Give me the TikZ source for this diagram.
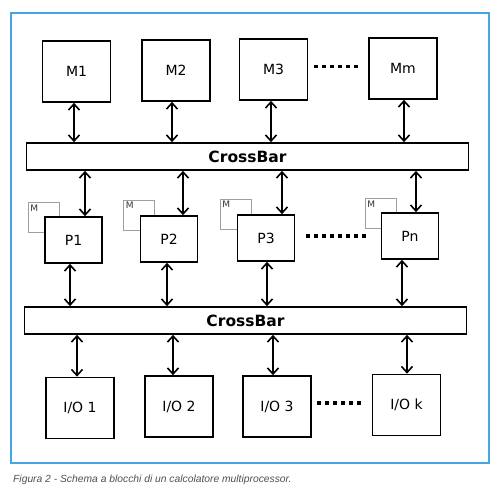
\documentclass[tikz,border=0pt]{standalone}
\usepackage{fontspec}
\setmainfont{DejaVu Sans}
\newfontfamily\capfont{Liberation Sans}
\usetikzlibrary{arrows.meta}
\definecolor{frameblue}{RGB}{70,165,228}
\definecolor{capgray}{RGB}{80,80,80}
\tikzset{
  blk/.style={draw, line width=1.7pt, fill=white, minimum width=68pt, minimum height=61pt, inner sep=0pt, font=\fontsize{14}{14}\selectfont},
  pblk/.style={blk, minimum width=57pt, minimum height=46pt},
  bar/.style={draw, line width=1.7pt, fill=white, minimum width=442pt, minimum height=27pt, inner sep=0pt, font=\fontsize{15.5}{15.5}\selectfont\bfseries},
  mini/.style={draw=gray!75, line width=0.7pt, minimum width=31pt, minimum height=30pt, inner sep=0pt},
  minilbl/.style={font=\fontsize{9}{9}\selectfont, text=black!80, anchor=north west, inner sep=2.5pt},
  arr/.style={line width=1.6pt, {Straight Barb[length=6pt,width=11pt]}-{Straight Barb[length=6pt,width=11pt]}},
  dots/.style={line width=3.2pt, dash pattern=on 4pt off 4pt}
}
\begin{document}
\begin{tikzpicture}[x=1pt,y=-1pt]
\useasboundingbox (0,0) rectangle (500,489);
\fill[white] (0,0) rectangle (500,489);
\draw[frameblue, line width=1.3pt] (11,13) rectangle (489,463);

% memories
\node[blk] (M1) at (76.5,71.5) {M1};
\node[blk] (M2) at (176,70.5) {M2};
\node[blk] (M3) at (273.5,69.5) {M3};
\node[blk] (Mm) at (403,68.5) {Mm};

% crossbar 1
\node[bar] (CB1) at (247.5,156.5) {CrossBar};

% local memories
\node[mini] (LM1) at (43.5,217.5) {};
\node[mini] (LM2) at (139,215) {};
\node[mini] (LM3) at (235.5,214) {};
\node[mini] (LMn) at (380.5,213.5) {};
\node[minilbl] (LM1l) at (LM1.north west) {M};
\node[minilbl] (LM2l) at (LM2.north west) {M};
\node[minilbl] (LM3l) at (LM3.north west) {M};
\node[minilbl] (LMnl) at (LMn.north west) {M};

% processors
\node[pblk] (P1) at (73.5,240) {P1};
\node[pblk] (P2) at (169,239) {P2};
\node[pblk] (P3) at (266,238) {P3};
\node[pblk] (Pn) at (410,236) {Pn};

% crossbar 2
\node[bar] (CB2) at (245.5,320.5) {CrossBar};

% I/O
\node[blk] (IO1) at (80,408) {I/O 1};
\node[blk] (IO2) at (179,406.5) {I/O 2};
\node[blk] (IO3) at (277,406.5) {I/O 3};
\node[blk] (IOk) at (406.5,405) {I/O k};

% arrows memory - crossbar
\coordinate (m1b) at ([xshift=-2.5pt]M1.south);
\coordinate (m2b) at ([xshift=-4pt]M2.south);
\coordinate (m3b) at ([xshift=-2.5pt]M3.south);
\coordinate (mmb) at ([xshift=1pt]Mm.south);
\draw[arr] (m1b) -- (CB1.north -| m1b);
\draw[arr] (m2b) -- (CB1.north -| m2b);
\draw[arr] (m3b) -- (CB1.north -| m3b);
\draw[arr] (mmb) -- (CB1.north -| mmb);

% arrows crossbar - processors
\coordinate (p1t) at ([xshift=11.5pt]P1.north);
\coordinate (p2t) at ([xshift=14pt]P2.north);
\coordinate (p3t) at ([xshift=16pt]P3.north);
\coordinate (pnt) at ([xshift=6pt]Pn.north);
\draw[arr] (CB1.south -| p1t) -- (p1t);
\draw[arr] (CB1.south -| p2t) -- (p2t);
\draw[arr] (CB1.south -| p3t) -- (p3t);
\draw[arr] (CB1.south -| pnt) -- (pnt);

% arrows processors - crossbar 2
\coordinate (p1b) at ([xshift=-3.5pt]P1.south);
\coordinate (p2b) at ([xshift=-2pt]P2.south);
\coordinate (p3b) at ([xshift=1pt]P3.south);
\coordinate (pnb) at ([xshift=-8pt]Pn.south);
\draw[arr] (p1b) -- (CB2.north -| p1b);
\draw[arr] (p2b) -- (CB2.north -| p2b);
\draw[arr] (p3b) -- (CB2.north -| p3b);
\draw[arr] (pnb) -- (CB2.north -| pnb);

% arrows crossbar 2 - I/O
\coordinate (io1t) at ([xshift=-3pt]IO1.north);
\coordinate (io2t) at ([xshift=-6pt]IO2.north);
\coordinate (io3t) at ([xshift=-4pt]IO3.north);
\coordinate (iokt) at ([xshift=0.5pt]IOk.north);
\draw[arr] (CB2.south -| io1t) -- (io1t);
\draw[arr] (CB2.south -| io2t) -- (io2t);
\draw[arr] (CB2.south -| io3t) -- (io3t);
\draw[arr] (CB2.south -| iokt) -- (iokt);

% dotted continuations
\draw[dots, shorten <=6pt, shorten >=9pt] ([yshift=3pt]M3.east) -- ([yshift=3pt]M3.east -| Mm.west);
\draw[dots, shorten <=11pt, shorten >=11pt] ([yshift=2pt]P3.east) -- ([yshift=2pt]P3.east -| Pn.west);
\draw[dots, shorten <=5pt, shorten >=7pt] ([yshift=3.5pt]IO3.east) -- ([yshift=3.5pt]IO3.east -| IOk.west);

% caption
\node[anchor=west, inner sep=0pt, text=capgray, font=\capfont\itshape\fontsize{10.3}{11}\selectfont] (cap) at (13,479.5) {Figura 2 - Schema a blocchi di un calcolatore multiprocessor.};
\end{tikzpicture}
\end{document}
